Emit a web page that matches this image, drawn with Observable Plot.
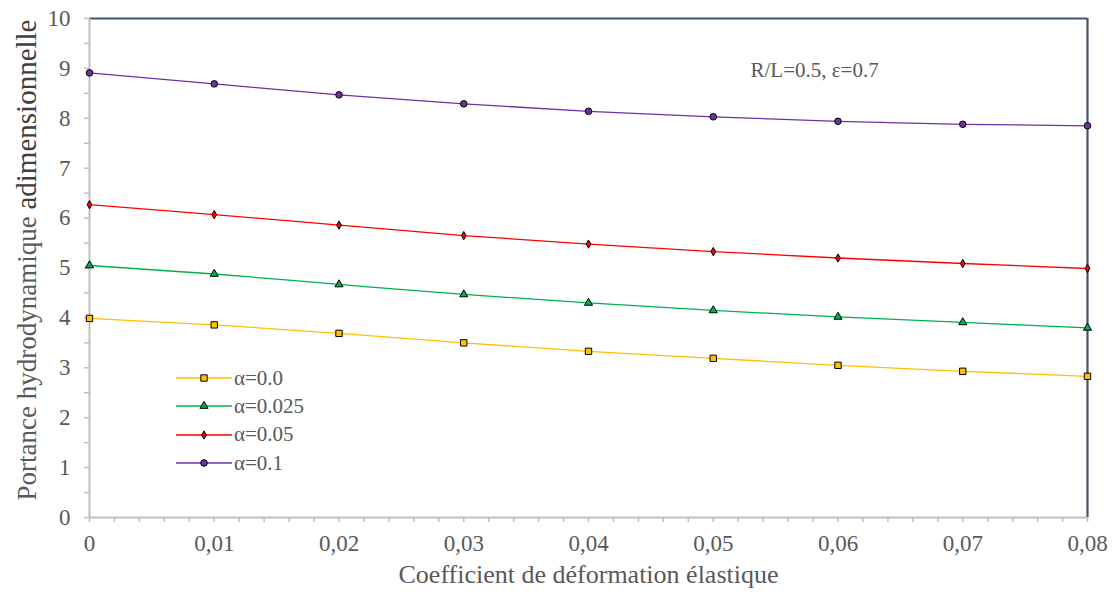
<!DOCTYPE html>
<html>
<head>
<meta charset="utf-8">
<script src="https://cdn.jsdelivr.net/npm/d3@7"></script>
<script src="https://cdn.jsdelivr.net/npm/@observablehq/plot@0.6"></script>
<style>
  html, body { margin: 0; padding: 0; background: #fff; }
  #wrap { position: relative; width: 1112px; height: 599px; font-family: "Liberation Serif", "Times New Roman", serif; }
  #legend { position: absolute; left: 176px; top: 364px; color: #595959; font-size: 21px; }
  .li { display: flex; align-items: center; height: 28.3px; }
  .li svg { margin-right: 2px; }
</style>
</head>
<body>
<div id="wrap"></div>
<script>
const xValues = [0, 0.01, 0.02, 0.03, 0.04, 0.05, 0.06, 0.07, 0.08];
const alpha00  = [3.99, 3.86, 3.69, 3.50, 3.33, 3.19, 3.05, 2.93, 2.83];
const alpha025 = [5.05, 4.88, 4.67, 4.47, 4.30, 4.15, 4.02, 3.91, 3.80];
const alpha05  = [6.27, 6.07, 5.86, 5.65, 5.48, 5.33, 5.20, 5.09, 4.99];
const alpha10  = [8.91, 8.69, 8.47, 8.29, 8.14, 8.03, 7.94, 7.88, 7.85];
const seriesNames = ["α=0.0", "α=0.025", "α=0.05", "α=0.1"];
const seriesColors = ["#FFC000", "#00B050", "#FF0000", "#7030A0"];
const seriesSymbols = ["square", "triangle", "diamond", "circle"];
const seriesSizes = [3.6, 3, 2.5, 3.3];
const yTicks = d3.range(0, 10.001, 0.5);
const xTicks = d3.range(0, 0.0801, 0.002);
const xLabels = [0, 0.01, 0.02, 0.03, 0.04, 0.05, 0.06, 0.07, 0.08];
const annotation = "R/L=0.5, ε=0.7";
const xTitle = "Coefficient de déformation élastique";
const yTitleParts = ["Portance hydrodynamique ", "adimensionnelle"];

const allSeries = [alpha00, alpha025, alpha05, alpha10];
const data = allSeries.flatMap((vals, s) => vals.map((v, i) => ({x: xValues[i], y: v, s})));

const marks = [
  Plot.ruleY([10], {stroke: "#44546a", strokeWidth: 2.2}),
  Plot.ruleX([0.08], {stroke: "#44546a", strokeWidth: 2.2}),
  Plot.axisY({ticks: yTicks, tickSize: 5, tickPadding: 14, stroke: "#bfbfbf", strokeWidth: 1.5,
    tickFormat: d => Number.isInteger(d) ? String(d) : "", fontSize: 23, color: "#595959", label: null}),
  Plot.axisX({ticks: xTicks, tickSize: 5, tickPadding: 12, stroke: "#bfbfbf", strokeWidth: 1.5,
    tickFormat: d => xLabels.some(l => Math.abs(l - d) < 1e-9) ? (Math.round(d*100)/100).toString().replace(".", ",") : "",
    fontSize: 23, color: "#595959", label: null}),
  Plot.ruleX([0], {stroke: "#bfbfbf", strokeWidth: 2}),
  Plot.ruleY([0], {stroke: "#bfbfbf", strokeWidth: 2}),
];
allSeries.forEach((vals, s) => {
  const d = data.filter(p => p.s === s);
  marks.push(Plot.line(d, {x: "x", y: "y", stroke: seriesColors[s], strokeWidth: 1.3, curve: "monotone-x"}));
  marks.push(Plot.dot(d, {x: "x", y: "y", symbol: seriesSymbols[s], r: seriesSizes[s], fill: seriesColors[s], stroke: "#000", strokeWidth: 1}));
});
marks.push(Plot.text([annotation], {frameAnchor: "top-left", dx: 661, dy: 44, textAnchor: "start", fontSize: 21, fill: "#595959", fontFamily: "Liberation Serif"}));
marks.push(Plot.text([xTitle], {frameAnchor: "bottom", dy: 65, fontSize: 26, fill: "#595959", fontFamily: "Liberation Serif"}));
marks.push(Plot.text(["ylab"], {frameAnchor: "left", dx: -62, dy: -8, rotate: -90, textAnchor: "middle", fontSize: 27, fill: "#595959", fontFamily: "Liberation Serif", className: "ylab"}));

const chart = Plot.plot({
  width: 1112, height: 599,
  marginLeft: 89, marginRight: 25, marginTop: 18, marginBottom: 82,
  style: {fontFamily: "Liberation Serif", background: "#fff"},
  x: {domain: [0, 0.08]},
  y: {domain: [0, 10]},
  marks
});
document.getElementById("wrap").appendChild(chart);

// y label with two sizes
const t = d3.select(chart).select(".ylab text");
t.text(null);
t.append("tspan").text(yTitleParts[0]);
t.append("tspan").attr("font-size", 29).attr("fill", "#404040").text(yTitleParts[1]);

// legend
const leg = document.createElement("div");
leg.id = "legend";
seriesNames.forEach((n, s) => {
  const row = document.createElement("div");
  row.className = "li";
  const sw = d3.create("svg").attr("width", 56).attr("height", 14);
  sw.append("line").attr("x1", 0).attr("x2", 56).attr("y1", 7).attr("y2", 7).attr("stroke", seriesColors[s]).attr("stroke-width", 1.3);
  sw.append("path").attr("transform", "translate(28,7)")
    .attr("d", d3.symbol(d3["symbol" + seriesSymbols[s][0].toUpperCase() + seriesSymbols[s].slice(1)], Math.PI * seriesSizes[s] ** 2)())
    .attr("fill", seriesColors[s]).attr("stroke", "#000").attr("stroke-width", 1);
  row.appendChild(sw.node());
  const lab = document.createElement("span");
  lab.textContent = n;
  row.appendChild(lab);
  leg.appendChild(row);
});
document.getElementById("wrap").appendChild(leg);
</script>
</body>
</html>
